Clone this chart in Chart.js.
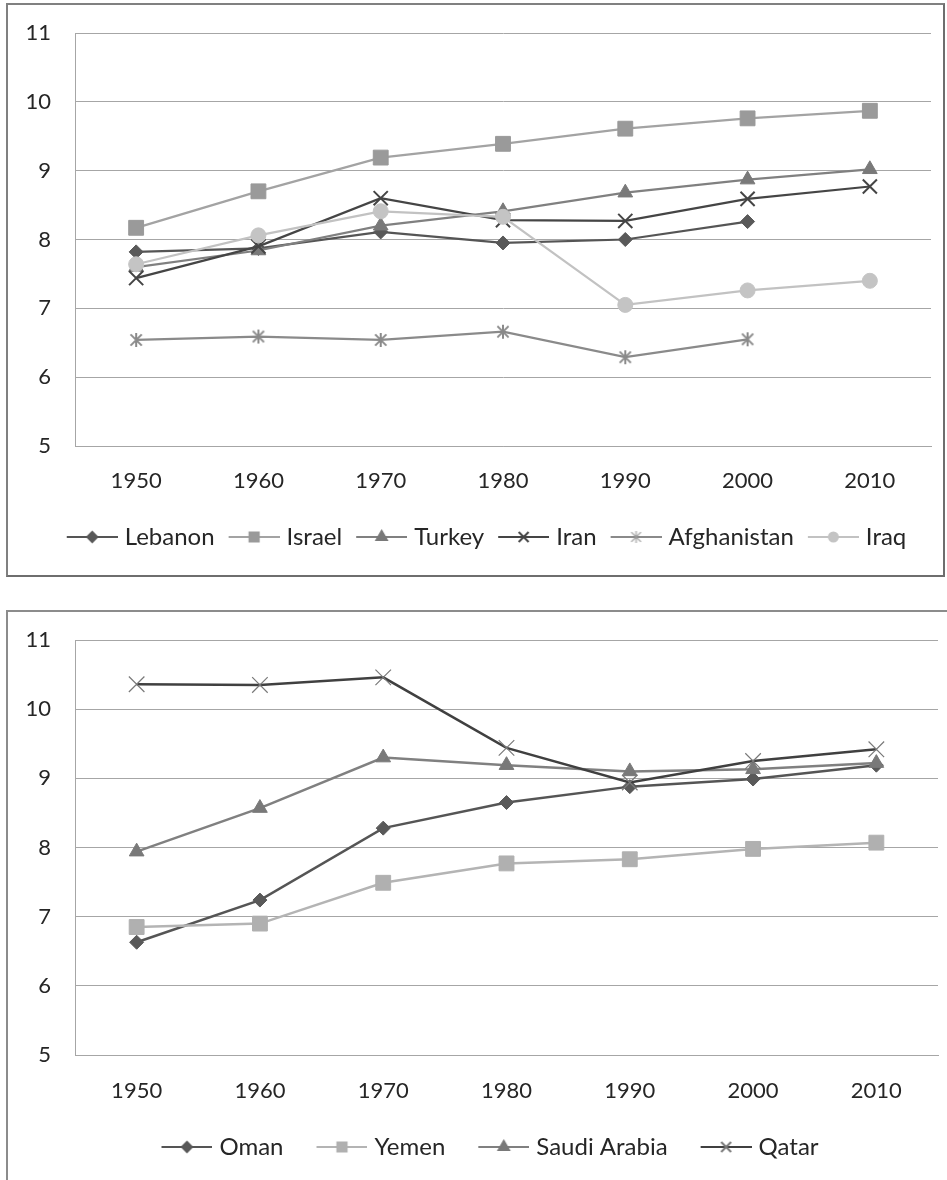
<!DOCTYPE html>
<html>
<head>
<meta charset="utf-8">
<script src="https://cdn.jsdelivr.net/npm/chart.js@4.4.0/dist/chart.umd.min.js"></script>
<style>
  html, body { margin: 0; padding: 0; background: #fff; width: 947px; height: 1180px; overflow: hidden; }
  canvas { position: absolute; }
  .frame { position: absolute; box-sizing: border-box; border: 2px solid #808080; pointer-events: none; }
</style>
</head>
<body>
<canvas id="chartTop" width="935" height="570" style="left:8px;top:5px"></canvas>
<canvas id="chartBottom" width="939" height="568" style="left:8px;top:612px"></canvas>
<div class="frame" style="left:6px;top:3px;width:939px;height:574px;border-right-color:#6e6e6e;border-bottom-color:#6e6e6e"></div>
<div class="frame" style="left:6px;top:610px;width:960px;height:620px;border-color:#8c8c8c"></div>
<script>
// Decades on the horizontal axis
const years = ['1950', '1960', '1970', '1980', '1990', '2000', '2010'];
const yTicks = [5, 6, 7, 8, 9, 10, 11];

// Upper panel
const lebanon     = [7.82, 7.87, 8.11, 7.95, 8.00, 8.26, null];
const israel      = [8.17, 8.70, 9.19, 9.39, 9.61, 9.76, 9.87];
const turkey      = [7.60, 7.84, 8.20, 8.41, 8.68, 8.87, 9.02];
const iran        = [7.44, 7.90, 8.60, 8.28, 8.27, 8.59, 8.77];
const afghanistan = [6.54, 6.59, 6.54, 6.66, 6.29, 6.55, null];
const iraq        = [7.64, 8.06, 8.41, 8.33, 7.05, 7.26, 7.40];

// Lower panel
const oman        = [6.63, 7.24, 8.28, 8.65, 8.88, 8.99, 9.19];
const yemen       = [6.85, 6.90, 7.49, 7.77, 7.83, 7.98, 8.07];
const saudiArabia = [7.94, 8.57, 9.30, 9.19, 9.10, 9.13, 9.22];
const qatar       = [10.36, 10.35, 10.46, 9.44, 8.94, 9.25, 9.42];

const FAMILY = 'Lato, "Open Sans", sans-serif';
const TICK_FONT = { family: FAMILY, size: 22 };
const LEGEND_FONT = { family: FAMILY, size: 24 };
const TEXT = '#262626';
const GRID = '#a6a6a6';
const SWATCH = 46;   // legend swatch box width

// Six-armed asterisk marker (an X with a vertical bar)
function asterisk(color, size, lw) {
  const c = document.createElement('canvas');
  c.width = size; c.height = size;
  const g = c.getContext('2d');
  g.strokeStyle = color; g.lineWidth = lw;
  const m = size / 2, a = size / 2 - 2;
  g.beginPath();
  g.moveTo(m - a * 0.8, m - a * 0.8); g.lineTo(m + a * 0.8, m + a * 0.8);
  g.moveTo(m + a * 0.8, m - a * 0.8); g.lineTo(m - a * 0.8, m + a * 0.8);
  g.moveTo(m, m - a); g.lineTo(m, m + a);
  g.stroke();
  return c;
}

// Legend swatch: a short line with the series marker in its middle,
// preceded by `lead` pixels of blank space
function legendIcon(s, lead) {
  const W = 56 + lead, H = 24;
  const c = document.createElement('canvas');
  c.width = W; c.height = H;
  const g = c.getContext('2d');
  const x0 = 5 + lead;
  g.strokeStyle = s.line; g.lineWidth = 2;
  g.beginPath(); g.moveTo(x0, H / 2); g.lineTo(W, H / 2); g.stroke();
  const cx = x0 + 25.5, cy = H / 2;
  if (s.legendMarker === 'asterisk') {
    g.drawImage(asterisk('#9a9a9a', 16, 1.2), cx - 8, cy - 8);
  } else {
    g.fillStyle = s.fill;
    g.strokeStyle = s.markerStroke || s.fill;
    Chart.helpers.drawPoint(g, {
      pointStyle: s.legendMarker, radius: s.legendRadius, rotation: 0,
      borderWidth: s.legendBorder || 1
    }, cx, cy);
  }
  return c;
}

function buildChart(id, series, geo) {
  const icons = series.map(s => legendIcon(s, geo.lead));
  // Moves the centred legend row sideways after layout
  const legendOffset = {
    id: 'legendOffset',
    afterLayout(chart) {
      if (chart.legend) {
        chart.legend.left += geo.legendShift;
        chart.legend.right += geo.legendShift;
      }
    }
  };
  return new Chart(document.getElementById(id), {
    type: 'line',
    plugins: [legendOffset],
    data: {
      labels: years,
      datasets: series.map((s, i) => ({
        label: s.name,
        data: s.values,
        borderColor: s.line,
        backgroundColor: s.fill,
        borderWidth: geo.lineWidth,
        pointStyle: s.marker,
        pointRadius: s.radius,
        pointHoverRadius: s.radius,
        pointBackgroundColor: s.fill,
        pointBorderColor: s.markerStroke || s.fill,
        pointBorderWidth: s.markerWidth || 1,
        tension: 0,
        spanGaps: false,
        order: series.length - i
      }))
    },
    options: {
      responsive: false,
      animation: false,
      devicePixelRatio: 1,
      layout: {
        autoPadding: false,
        padding: { left: 0, right: geo.padRight, top: 28, bottom: geo.padBottom }
      },
      plugins: {
        tooltip: { enabled: false },
        legend: {
          position: 'bottom',
          labels: {
            usePointStyle: true,
            pointStyleWidth: SWATCH + geo.lead,
            padding: 10,
            color: TEXT,
            font: LEGEND_FONT,
            sort: (a, b) => a.datasetIndex - b.datasetIndex,
            generateLabels: chart => {
              const items = Chart.defaults.plugins.legend.labels.generateLabels(chart);
              items.forEach(it => { it.pointStyle = icons[it.datasetIndex]; });
              return items;
            }
          }
        }
      },
      scales: {
        x: {
          offset: true,
          grid: { display: false, drawTicks: false },
          border: { display: true, color: GRID, width: 1 },
          ticks: { color: TEXT, font: TICK_FONT, padding: geo.xPad, maxRotation: 0 },
          afterFit: sc => { sc.height = geo.xHeight; }
        },
        y: {
          min: yTicks[0],
          max: yTicks[yTicks.length - 1],
          afterBuildTicks: sc => { sc.ticks = yTicks.map(v => ({ value: v })); },
          grid: { color: GRID, lineWidth: 1, drawTicks: false },
          border: { display: true, color: GRID, width: 1 },
          ticks: { color: TEXT, font: TICK_FONT, padding: 24 },
          afterFit: sc => { sc.width = 67; sc.paddingTop = 0; sc.paddingBottom = 0; }
        }
      }
    }
  });
}

function draw() {
  const topSeries = [
    { name: 'Lebanon', values: lebanon, line: '#555555', fill: '#595959', marker: 'rectRot', radius: 7,
      legendMarker: 'rectRot', legendRadius: 5 },
    { name: 'Israel', values: israel, line: '#a3a3a3', fill: '#9a9a9a', marker: 'rect', radius: 10.5,
      legendMarker: 'rect', legendRadius: 6.5 },
    { name: 'Turkey', values: turkey, line: '#808080', fill: '#797979', marker: 'triangle', radius: 8.5,
      legendMarker: 'triangle', legendRadius: 6 },
    { name: 'Iran', values: iran, line: '#454545', fill: '#454545', marker: 'crossRot', radius: 10,
      markerWidth: 2, markerLegendStroke: '#8a8a8a', legendMarker: 'crossRot', legendRadius: 7, legendBorder: 1 },
    { name: 'Afghanistan', values: afghanistan, line: '#8a8a8a', fill: '#8a8a8a',
      marker: asterisk('#8a8a8a', 18, 2), radius: 8, legendMarker: 'asterisk' },
    { name: 'Iraq', values: iraq, line: '#c2c2c2', fill: '#c4c4c4', marker: 'circle', radius: 7.5,
      legendMarker: 'circle', legendRadius: 4.5 }
  ];
  const bottomSeries = [
    { name: 'Oman', values: oman, line: '#555555', fill: '#595959', marker: 'rectRot', radius: 7,
      legendMarker: 'rectRot', legendRadius: 5 },
    { name: 'Yemen', values: yemen, line: '#b4b4b4', fill: '#b0b0b0', marker: 'rect', radius: 10.5,
      legendMarker: 'rect', legendRadius: 6.5 },
    { name: 'Saudi Arabia', values: saudiArabia, line: '#808080', fill: '#797979', marker: 'triangle', radius: 8.5,
      legendMarker: 'triangle', legendRadius: 6 },
    { name: 'Qatar', values: qatar, line: '#404040', fill: '#404040', marker: 'crossRot', radius: 11,
      markerStroke: '#7a7a7a', markerWidth: 1.2, legendMarker: 'crossRot', legendRadius: 7, legendBorder: 1 }
  ];
  buildChart('chartTop', topSeries, {
    lineWidth: 2.25, padRight: 12, padBottom: 16, xHeight: 69, xPad: 22, lead: 4, legendShift: 15
  });
  buildChart('chartBottom', bottomSeries, {
    lineWidth: 2.5, padRight: 9, padBottom: 11, xHeight: 70, xPad: 23, lead: 23, legendShift: 5.5
  });
}

if (document.fonts && document.fonts.load) {
  Promise.all([document.fonts.load('22px Lato'), document.fonts.load('24px Lato')]).then(draw, draw);
} else {
  draw();
}
</script>
</body>
</html>
